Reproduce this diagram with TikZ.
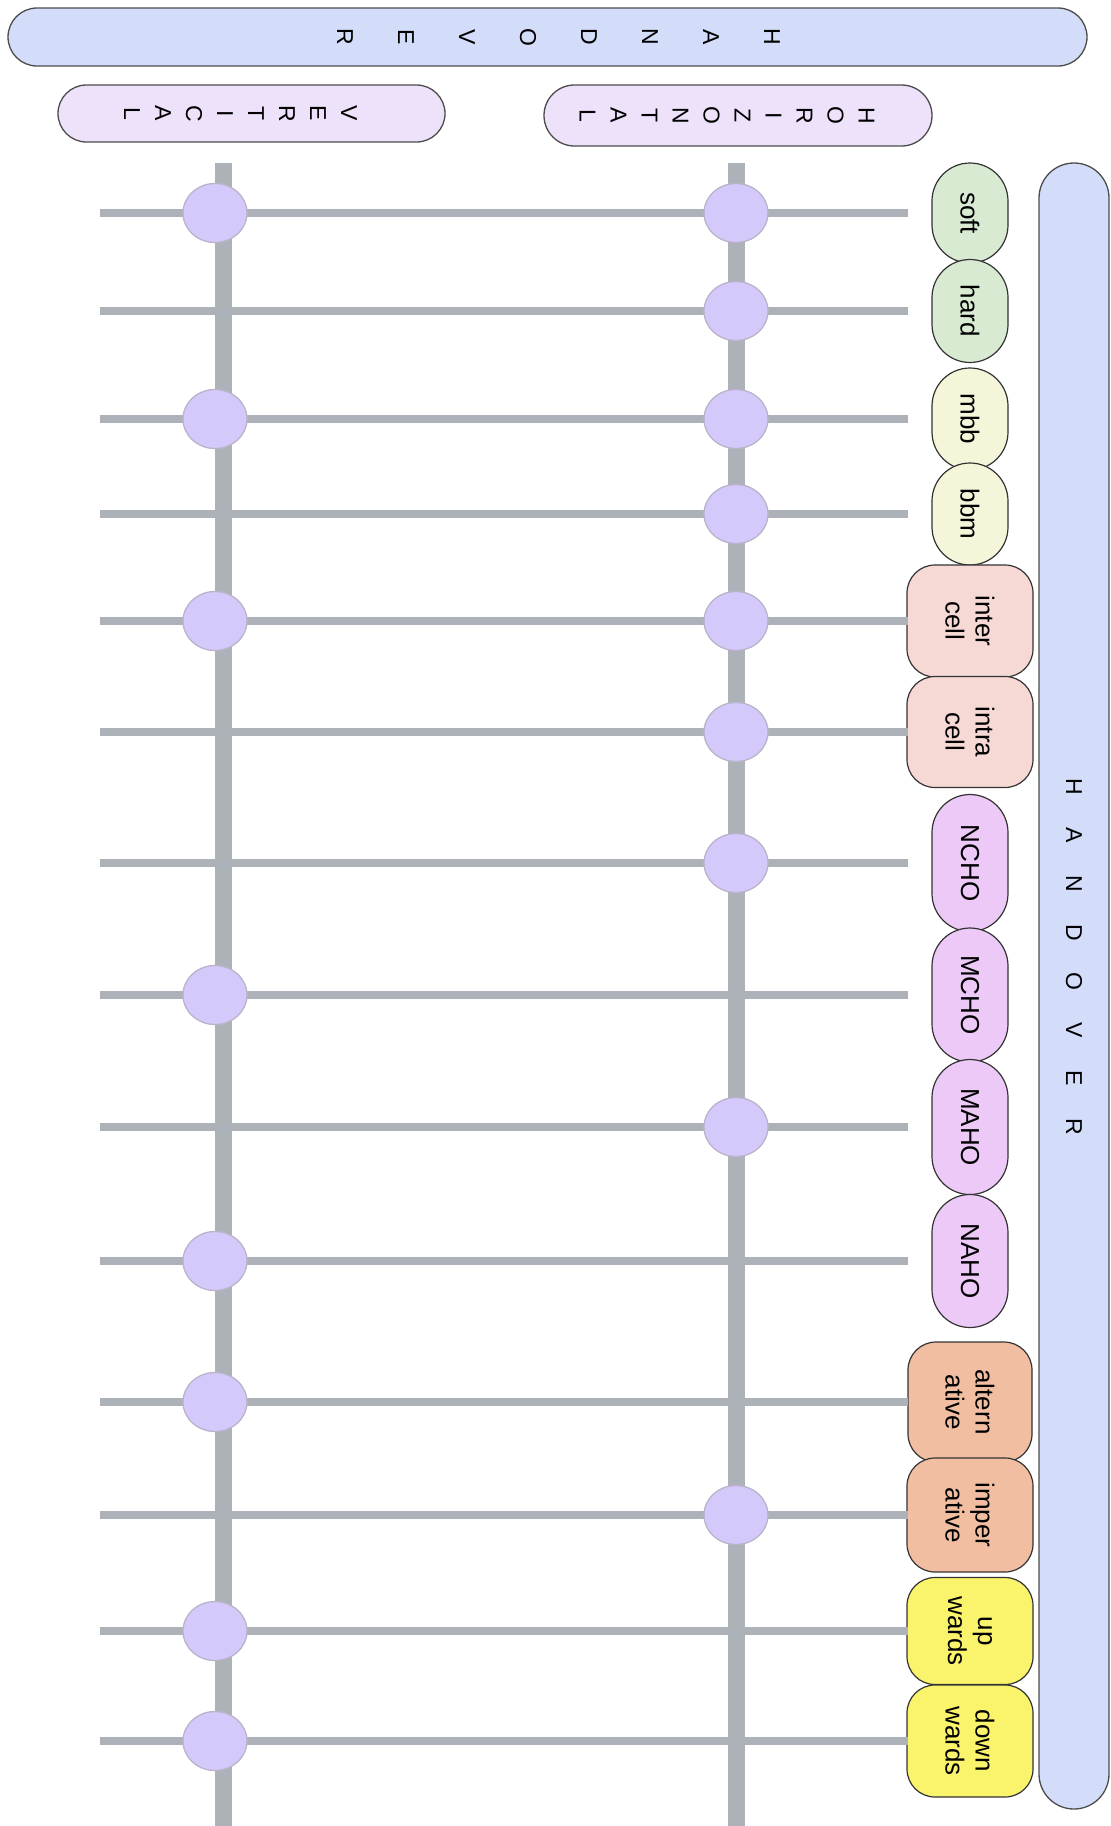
\documentclass[tikz,border=0pt]{standalone}
\usepackage{fontspec}
\setmainfont{Liberation Sans}
\usetikzlibrary{positioning, shapes.geometric}
\definecolor{barblue}{HTML}{D3DDF9}
\definecolor{headlilac}{HTML}{EEE2FB}
\definecolor{leafgreen}{HTML}{D9EAD3}
\definecolor{leafcream}{HTML}{F5F5DA}
\definecolor{leafpink}{HTML}{F6D8D4}
\definecolor{leafviolet}{HTML}{EDC9F8}
\definecolor{leafsalmon}{HTML}{F1BEA2}
\definecolor{leafyellow}{HTML}{FAF36C}
\definecolor{railgray}{HTML}{ADB2B8}
\definecolor{knotlilac}{HTML}{D5C8FA}
\definecolor{knotedge}{HTML}{B9B4C9}
\newcommand{\spreadletter}[1]{\makebox[48.6pt]{#1}}

\tikzset{
  bar/.style={draw=black!70, line width=1.3pt, rotate=-90, inner sep=0pt, align=center},
  leaf/.style={draw=black!80, line width=1.2pt, rotate=-90, inner sep=0pt, align=center,
               font=\fontsize{26}{30}\selectfont},
  rowline/.style={draw=railgray, line width=8pt},
  rail/.style={draw=railgray, line width=17pt},
  knot/.style={ellipse, fill=knotlilac, draw=knotedge, line width=1.3pt,
               minimum width=64pt, minimum height=59pt, inner sep=0pt}
}

\begin{document}
\begin{tikzpicture}[x=1pt, y=-1pt]
  \useasboundingbox (0,0) rectangle (1111,1826);

  % headers
  \node[bar, fill=barblue, minimum width=58pt, minimum height=1079pt, rounded corners=29pt,
        font=\fontsize{23}{61}\selectfont] (handovertop) at (547.5,37)
        {H\\A\\N\\D\\O\\V\\E\\R\rule[-22pt]{0pt}{22pt}};
  \node[bar, fill=headlilac, minimum width=57pt, minimum height=387pt, rounded corners=28.5pt,
        font=\fontsize{23}{31}\selectfont] (vertical) at (251.5,113.5)
        {\rule{0pt}{38pt}V\\E\\R\\T\\I\\C\\A\\L};
  \node[bar, fill=headlilac, minimum width=61pt, minimum height=388pt, rounded corners=30.5pt,
        font=\fontsize{23}{31}\selectfont] (horizontal) at (738,115.5)
        {\rule{0pt}{38pt}H\\O\\R\\I\\Z\\O\\N\\T\\A\\L};
  \node[bar, fill=barblue, minimum width=1646pt, minimum height=70pt, rounded corners=35pt,
        font=\fontsize{23}{26}\selectfont] (handoverside) at (1074,986)
        {\spreadletter{H}\spreadletter{A}\spreadletter{N}\spreadletter{D}\spreadletter{O}\spreadletter{V}\spreadletter{E}\spreadletter{R}\hspace{58pt}};

  % leaves
  \foreach \name/\cy/\len/\wid/\rad/\col/\txt in {
      soft/213/100/76/38/leafgreen/soft,
      hard/311/103/76/38/leafgreen/hard,
      mbb/419/102/76/38/leafcream/mbb,
      bbm/514/102/76/38/leafcream/bbm,
      inter/621/112/126/28/leafpink/inter\\cell,
      intra/732/111/126/28/leafpink/intra\\cell,
      ncho/863/137/76/38/leafviolet/NCHO,
      mcho/995/134/76/38/leafviolet/MCHO,
      maho/1127/135/76/38/leafviolet/MAHO,
      naho/1261/133/76/38/leafviolet/NAHO,
      altern/1402/120/124/28/leafsalmon/altern\\ative,
      imper/1515/114/126/28/leafsalmon/imper\\ative,
      up/1631/107/126/28/leafyellow/up\\wards,
      down/1741/112/126/28/leafyellow/down\\wards}
    \node[leaf, fill=\col, minimum width=\len pt, minimum height=\wid pt, rounded corners=\rad pt]
      (\name) at (970,\cy) {\txt};

  % rails and rows
  \coordinate (lend) at (100,0);
  \coordinate (rend) at (908,0);
  \coordinate (vtop) at (223,163);
  \coordinate (vbot) at (223,1826);
  \coordinate (htop) at (736,163);
  \coordinate (hbot) at (736,1826);
  \foreach \name in {soft,hard,mbb,bbm,inter,intra,ncho,mcho,maho,naho,altern,imper,up,down}
    \draw[rowline] (\name -| lend) -- (\name -| rend);
  \draw[rail] (vtop) -- (vbot);
  \draw[rail] (htop) -- (hbot);

  % knots
  \foreach \name in {soft,mbb,inter,mcho,naho,altern,up,down}
    \node[knot, xshift=-8pt] (v-\name) at (\name -| vtop) {};
  \foreach \name in {soft,hard,mbb,bbm,inter,intra,ncho,maho,imper}
    \node[knot] (h-\name) at (\name -| htop) {};
\end{tikzpicture}
\end{document}
